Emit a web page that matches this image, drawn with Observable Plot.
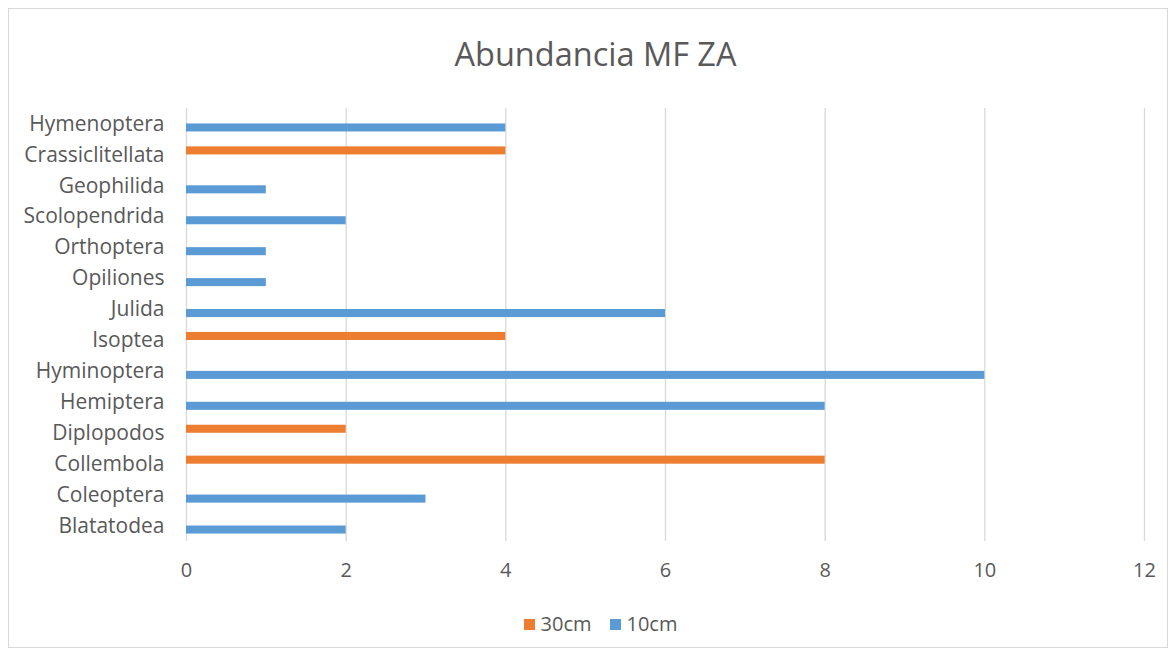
<!DOCTYPE html>
<html>
<head>
<meta charset="utf-8">
<script src="https://cdn.jsdelivr.net/npm/d3@7"></script>
<script src="https://cdn.jsdelivr.net/npm/@observablehq/plot@0.6"></script>
<style>
  html, body { margin: 0; padding: 0; background: #fff; }
  #frame { position: relative; width: 1175px; height: 656px; overflow: hidden; font-family: "Open Sans", sans-serif; color: #595959; }
  #border { position: absolute; left: 8px; top: 8px; width: 1160px; height: 640px; border: 1px solid #d9d9d9; box-sizing: border-box; }
  #title { position: absolute; left: 0; width: 1175px; top: 33px; text-align: center; font-size: 32.5px; line-height: 42px; color: #595959; padding-left: 16px; box-sizing: border-box; }
  #chart { position: absolute; left: 0; top: 85px; }
  #legend { position: absolute; left: 0; width: 1175px; top: 611px; display: flex; justify-content: center; gap: 18px; font-size: 20px; line-height: 26px; padding-left: 26px; box-sizing: border-box; }
  .item { display: flex; align-items: center; gap: 6px; }
  .sw { width: 11px; height: 11px; display: inline-block; }
</style>
</head>
<body>
<div id="frame">
  <div id="border"></div>
  <div id="title">Abundancia MF ZA</div>
  <div id="chart"></div>
  <div id="legend"></div>
</div>
<script>
// Categories top to bottom
const categories = ["Hymenoptera","Crassiclitellata","Geophilida","Scolopendrida","Orthoptera","Opiliones","Julida","Isoptea","Hyminoptera","Hemiptera","Diplopodos","Collembola","Coleoptera","Blatatodea"];
const series = ["30cm", "10cm"];
const seriesColors = ["#ED7D31", "#5B9BD5"];
// values per category (0 = no bar)
const values30cm = [0,4,0,0,0,0,0,4,0,0,2,8,0,0];
const values10cm = [4,0,1,2,1,1,6,0,10,8,0,0,3,2];
const xTicks = [0,2,4,6,8,10,12];

const rows30 = categories.map((c,i) => ({category: c, value: values30cm[i]})).filter(d => d.value > 0);
const rows10 = categories.map((c,i) => ({category: c, value: values10cm[i]})).filter(d => d.value > 0);

const chart = Plot.plot({
  width: 1175,
  height: 515,
  marginTop: 23,
  marginBottom: 59,
  marginLeft: 186,
  marginRight: 31,
  style: { fontFamily: "'Open Sans', sans-serif", fontSize: "21px", color: "#595959", background: "transparent" },
  x: { domain: [0, 12], ticks: xTicks, tickSize: 0, tickPadding: 21, label: null },
  y: { domain: categories, paddingInner: 0.74, paddingOuter: 0.37, align: 0.5, round: false, tickSize: 0, tickPadding: 22, label: null },
  marks: [
    Plot.gridX(xTicks, { stroke: "#d9d9d9", strokeOpacity: 1, strokeWidth: 1.3 }),
    Plot.barX(rows30, { x: "value", y: "category", fill: seriesColors[0], dy: -4 }),
    Plot.barX(rows10, { x: "value", y: "category", fill: seriesColors[1], dy: 4 }),
    Plot.axisX({ ticks: xTicks, tickSize: 0, tickPadding: 21, fill: "#595959", fontSize: 20 }),
    Plot.axisY({ tickSize: 0, tickPadding: 22, fill: "#595959", fontSize: 21 })
  ]
});
document.getElementById("chart").appendChild(chart);

const legend = document.getElementById("legend");
series.forEach((s, i) => {
  const item = document.createElement("span");
  item.className = "item";
  const sw = document.createElement("span");
  sw.className = "sw";
  sw.style.background = seriesColors[i];
  item.appendChild(sw);
  item.appendChild(document.createTextNode(s));
  legend.appendChild(item);
});
</script>
</body>
</html>
